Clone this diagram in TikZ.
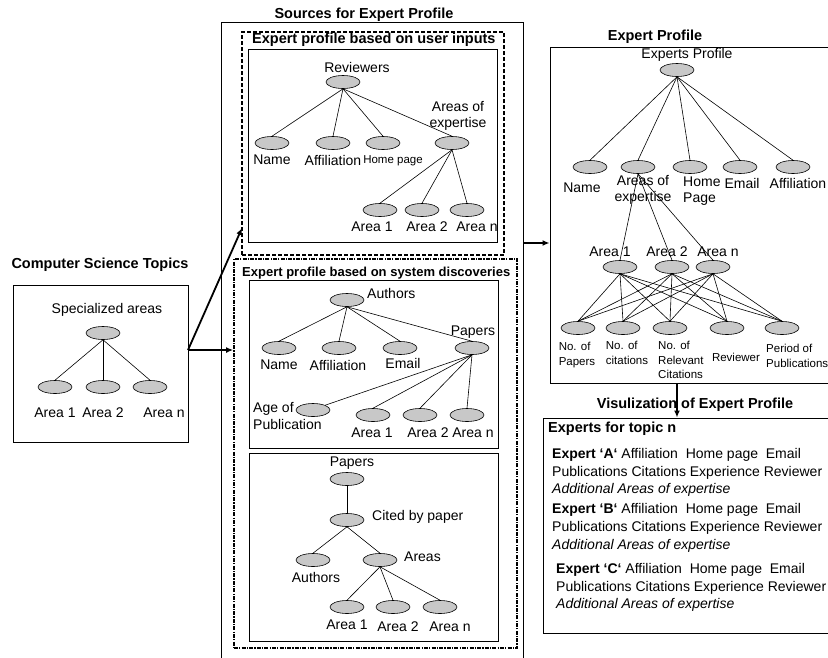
\documentclass[tikz,border=0pt]{standalone}
\usepackage{fontspec}
\setmainfont{Liberation Sans}
\usetikzlibrary{shapes.geometric,arrows.meta}
\definecolor{ellfill}{RGB}{200,200,200}
\begin{document}
\begin{tikzpicture}[x=1pt,y=-1pt,
  ell/.style={ellipse, draw, fill=ellfill, line width=0.6pt, minimum width=34pt, minimum height=13pt, inner sep=0pt},
  lbl/.style={font=\fontsize{14}{16.5}\selectfont, inner sep=0pt},
  sml/.style={font=\fontsize{11.5}{14.5}\selectfont, inner sep=0pt},
  ttl/.style={font=\fontsize{14.5}{17}\selectfont\bfseries, inner sep=0pt},
  box/.style={draw, line width=1pt, inner sep=0pt},
  dbox/.style={draw, line width=1.8pt, inner sep=0pt, dash pattern=on 4pt off 2pt},
  ddbox/.style={draw, line width=1.8pt, inner sep=0pt, dash pattern=on 4pt off 1.2pt on 1.2pt off 1.2pt},
  edge/.style={line width=0.6pt},
  arr/.style={line width=1.8pt, -{Latex[length=7pt,width=6pt]}}]
\useasboundingbox (0,0) rectangle (828,657);

% ---------- Computer Science Topics ----------
\node[ttl] (cstT) at (100,265) {Computer Science Topics};
\node[box, minimum width=175pt, minimum height=157pt] (cst) at (100.5,363.5) {};
\node[lbl] (cstL) at (107,310) {Specialized areas};
\node[ell] (c0) at (103,333) {};
\node[ell] (c1) at (55,387) {};
\node[ell] (c2) at (103,387) {};
\node[ell] (cn) at (150,387) {};
\node[lbl] (c1L) at (55,413) {Area 1};
\node[lbl] (c2L) at (103,413) {Area 2};
\node[lbl] (cnL) at (164,413) {Area n};
\foreach \t in {c1,c2,cn} \draw[edge] (c0.south) -- (\t.north);

% ---------- Sources for Expert Profile ----------
\node[ttl] (srcT) at (364,15) {Sources for Expert Profile};
\node[box, minimum width=302pt, minimum height=660pt] (src) at (372,352) {};
\node[dbox, minimum width=262pt, minimum height=223pt] (usr) at (373,143.5) {};
\node[ttl, anchor=west] (usrT) at (252,40) {Expert profile based on user inputs};
\node[box, minimum width=249pt, minimum height=193pt] (usrin) at (372.5,145.5) {};

\node[lbl] (revL) at (357,67) {Reviewers};
\node[ell] (rev) at (343,82) {};
\node[ell] (n1) at (272,143) {};
\node[ell] (af1) at (333,143) {};
\node[ell] (hp1) at (383,143) {};
\node[ell] (ae1) at (452,143) {};
\node[lbl] (n1L) at (272,160) {Name};
\node[lbl] (af1L) at (333,160) {Affiliation};
\node[sml] (hp1L) at (393,161) {Home page};
\node[lbl, align=center] (ae1L) at (458,116) {Areas of\\expertise};
\foreach \t in {n1,af1,hp1,ae1} \draw[edge] (rev.south) -- (\t.north);
\node[ell] (a11) at (380,210) {};
\node[ell] (a12) at (422,210) {};
\node[ell] (a1n) at (467,210) {};
\node[lbl] (a11L) at (372,227) {Area 1};
\node[lbl] (a12L) at (427,227) {Area 2};
\node[lbl] (a1nL) at (477,227) {Area n};
\foreach \t in {a11,a12,a1n} \draw[edge] (ae1.south) -- (\t.north);

\node[ddbox, minimum width=283pt, minimum height=389pt] (sys) at (375.5,453.5) {};
\node[ttl, font=\fontsize{13}{15}\selectfont\bfseries, anchor=west] (sysT) at (242,273) {Expert profile based on system discoveries};
\node[box, minimum width=249pt, minimum height=168pt] (sysA) at (373.5,364) {};
\node[box, minimum width=249pt, minimum height=188pt] (sysB) at (373.5,547) {};

% Authors tree
\node[ell] (au) at (347,300) {};
\node[lbl, anchor=west] (auL) at (367,293) {Authors};
\node[ell] (n2) at (279,348) {};
\node[ell] (af2) at (339,348) {};
\node[ell] (em2) at (400,348) {};
\node[ell] (pp2) at (472,348) {};
\node[lbl] (n2L) at (279,365) {Name};
\node[lbl] (af2L) at (338,365) {Affiliation};
\node[lbl] (em2L) at (403,363) {Email};
\node[lbl] (pp2L) at (473,332) {Papers};
\foreach \t in {n2,af2,em2,pp2} \draw[edge] (au.south) -- (\t.north);
\node[ell] (age) at (313,410) {};
\node[lbl, align=left, anchor=west] (ageL) at (253,416) {Age of\\Publication};
\node[ell] (a21) at (373,415) {};
\node[ell] (a22) at (420,415) {};
\node[ell] (a2n) at (467,415) {};
\node[lbl] (a21L) at (372,433) {Area 1};
\node[lbl] (a22L) at (428,433) {Area 2};
\node[lbl] (a2nL) at (473,433) {Area n};
\draw[edge] (pp2.south) -- (age.north east);
\foreach \t in {a21,a22,a2n} \draw[edge] (pp2.south) -- (\t.north);

% Papers tree
\node[lbl] (pp3L) at (352,463) {Papers};
\node[ell] (pp3) at (347,479) {};
\node[ell] (cb) at (347,520) {};
\node[lbl, anchor=west] (cbL) at (372,517) {Cited by paper};
\draw[edge] (pp3.south) -- (cb.north);
\node[ell] (au3) at (313,560) {};
\node[lbl] (au3L) at (316,577) {Authors};
\node[ell] (ar3) at (380,560) {};
\node[lbl, anchor=west] (ar3L) at (404,557) {Areas};
\foreach \t in {au3,ar3} \draw[edge] (cb.south) -- (\t.north);
\node[ell] (a31) at (347,607) {};
\node[ell] (a32) at (393,607) {};
\node[ell] (a3n) at (440,607) {};
\node[lbl] (a31L) at (347,625) {Area 1};
\node[lbl] (a32L) at (398,627) {Area 2};
\node[lbl] (a3nL) at (450,627) {Area n};
\foreach \t in {a31,a32,a3n} \draw[edge] (ar3.south) -- (\t.north);

% ---------- Expert Profile ----------
\node[ttl] (epT) at (655,37) {Expert Profile};
\node[box, minimum width=300pt, minimum height=336pt] (ep) at (700,215) {};
\node[lbl] (ep0L) at (687,55) {Experts Profile};
\node[ell] (ep0) at (677,70) {};
\node[ell] (en) at (590,167) {};
\node[ell] (ea) at (638,167) {};
\node[ell] (eh) at (690,167) {};
\node[ell] (ee) at (740,167) {};
\node[ell] (ef) at (793,167) {};
\node[lbl] (enL) at (582,188) {Name};
\node[lbl, align=center] (eaL) at (643,190) {Areas of\\expertise};
\node[lbl, align=left, anchor=west] (ehL) at (683,191) {Home\\Page};
\node[lbl] (eeL) at (742,183) {Email};
\node[lbl] (efL) at (798,183) {Affiliation};
\foreach \t in {en,ea,eh,ee,ef} \draw[edge] (ep0.south) -- (\t.north);
\node[lbl] (ea1L) at (610,252) {Area 1};
\node[lbl] (ea2L) at (667,252) {Area 2};
\node[lbl] (eanL) at (718,252) {Area n};
\node[ell] (ea1) at (620,267) {};
\node[ell] (ea2) at (672,267) {};
\node[ell] (ean) at (713,267) {};
\foreach \t in {ea1,ea2,ean} \draw[edge] (ea.south) -- (\t.north);
\node[ell] (b1) at (578,328) {};
\node[ell] (b2) at (623,328) {};
\node[ell] (b3) at (670,328) {};
\node[ell] (b4) at (727,328) {};
\node[ell] (b5) at (782,328) {};
\foreach \a in {ea1,ea2,ean} \foreach \b in {b1,b2,b3,b4,b5} \draw[edge] (\a.south) -- (\b.north);
\node[sml, align=left] (b1L) at (577,355) {No. of\\Papers};
\node[sml, align=left] (b2L) at (627,353) {No. of\\citations};
\node[sml, align=left, anchor=west] (b3L) at (658,360) {No. of\\Relevant\\Citations};
\node[sml] (b4L) at (736,357) {Reviewer};
\node[sml, align=left, anchor=west] (b5L) at (766,356) {Period of\\Publications};

% ---------- Visualization ----------
\node[ttl] (visT) at (695,405) {Visulization of Expert Profile};
\node[box, minimum width=300pt, minimum height=215pt] (vis) at (693,525.5) {};
\node[ttl, anchor=base west] (visH) at (548,432) {Experts for topic n};
\node[lbl, anchor=base west] (xa1) at (552,458) {\textbf{Expert ‘A‘} Affiliation~ Home page~ Email};
\node[lbl, anchor=base west] (xa2) at (552,476) {Publications Citations Experience Reviewer};
\node[lbl, anchor=base west] (xa3) at (552,493) {\itshape Additional Areas of expertise};
\node[lbl, anchor=base west] (xb1) at (552,513) {\textbf{Expert ‘B‘} Affiliation~ Home page~ Email};
\node[lbl, anchor=base west] (xb2) at (552,531) {Publications Citations Experience Reviewer};
\node[lbl, anchor=base west] (xb3) at (552,549) {\itshape Additional Areas of expertise};
\node[lbl, anchor=base west] (xc1) at (556,573) {\textbf{Expert ‘C‘} Affiliation~ Home page~ Email};
\node[lbl, anchor=base west] (xc2) at (556,591) {Publications Citations Experience Reviewer};
\node[lbl, anchor=base west] (xc3) at (556,608) {\itshape Additional Areas of expertise};

% ---------- Arrows ----------
\coordinate (cstOut) at (188,350);
\coordinate (usrIn) at (242,228);
\coordinate (srcOut) at (523,243);
\coordinate (epOut) at (677,383);
\draw[arr] (cstOut) -- (usrIn);
\draw[arr] (cstOut) -- (sys.west |- cstOut);
\draw[arr] (srcOut) -- (ep.west |- srcOut);
\draw[arr] (epOut) -- (vis.north -| epOut);
\end{tikzpicture}
\end{document}
